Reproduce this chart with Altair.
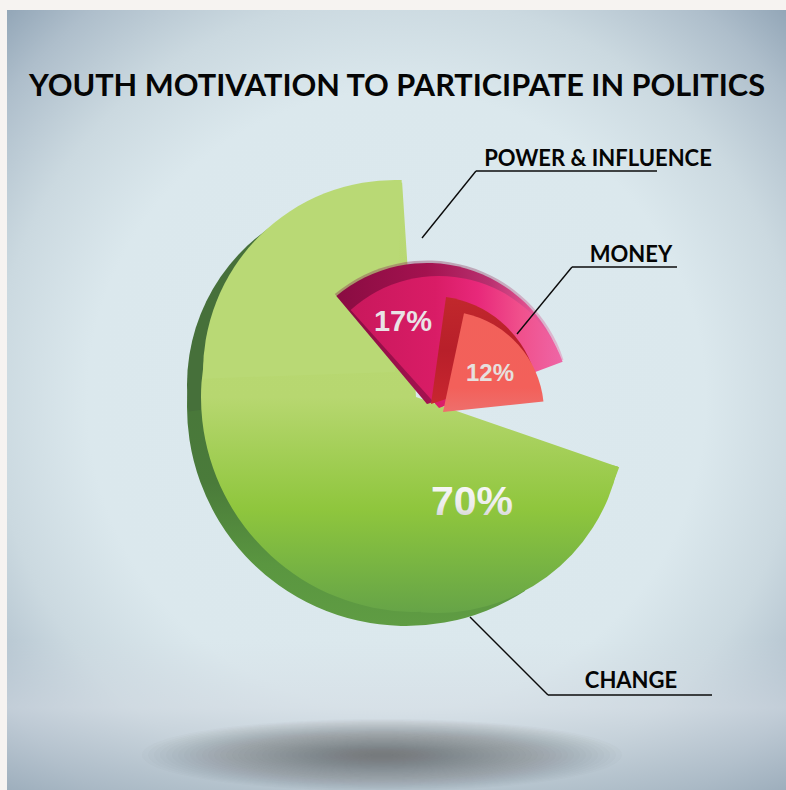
import altair as alt
import pandas as pd

# Survey shares with the sweep and reach of each wedge
reasons = ["CHANGE", "POWER & INFLUENCE", "MONEY"]
shares = [70, 17, 12]
sweep_start = [109.1, -42.0, 12.0]
sweep_end = [356.3, 69.5, 84.0]
pct_labels = ["70%", "17%", "12%"]

title_text = "YOUTH MOTIVATION TO PARTICIPATE IN POLITICS"

table = pd.DataFrame(
    {
        "reason": reasons,
        "share": shares,
        "start": sweep_start,
        "end": sweep_end,
        "pct": pct_labels,
    }
)
one_row = pd.DataFrame({"k": [0]})
W, H = 786, 790
HEAD_FONT = "Lato"
NUM_FONT = "Liberation Sans"
FLAT_ELLIPSE = "M-1,0 A1,0.15 0 1,0 1,0 A1,0.15 0 1,0 -1,0 Z"


def linear(stops, vertical=True):
    return alt.LinearGradient(
        gradient="linear",
        stops=[alt.GradientStop(offset=o, color=c) for o, c in stops],
        x1=0, y1=0,
        x2=0 if vertical else 1,
        y2=1 if vertical else 0,
    )


def radial(stops, r2=0.5):
    return alt.RadialGradient(
        gradient="radial",
        stops=[alt.GradientStop(offset=o, color=c) for o, c in stops],
        x1=0.5, y1=0.5, r1=0, x2=0.5, y2=0.5, r2=r2,
    )


def panel(x0, x1, y0, y1, fill):
    return alt.Chart(one_row).mark_rect(fill=fill).encode(
        x=alt.value(x0), x2=alt.value(x1), y=alt.value(y0), y2=alt.value(y1)
    )


def wedge(reason, cx, cy, reach, fill, opacity=1.0, sweep=None):
    """One pie sector: angle from the sweep columns, radius from the share."""
    rows = table[table.reason == reason].copy()
    if sweep:
        rows["start"], rows["end"] = sweep
    return alt.Chart(rows).mark_arc(fill=fill, opacity=opacity).encode(
        x=alt.value(cx),
        y=alt.value(cy),
        theta=alt.Theta(
            "start:Q",
            stack=False,
            scale=alt.Scale(domain=[0, 360], range=[0, 6.283185307]),
        ),
        theta2="end:Q",
        radius=alt.Radius(
            "share:Q",
            scale=alt.Scale(type="linear", domain=[12, 17, 70], range=reach),
        ),
        radius2=alt.value(0),
    )


def floor_shadow(cx, cy, half_widths, tint, alpha):
    """A soft ground shadow built from nested flat ellipses."""
    return [
        alt.Chart(one_row)
        .mark_point(
            shape=FLAT_ELLIPSE, filled=True, fill=tint, opacity=alpha,
            size=4 * hw * hw, strokeWidth=0,
        )
        .encode(x=alt.value(cx), y=alt.value(cy))
        for hw in half_widths
    ]


def leader(points):
    segs = []
    for (xa, ya), (xb, yb) in zip(points, points[1:]):
        segs.append(
            alt.Chart(one_row).mark_rule(color="#0b0b0b", strokeWidth=1.4).encode(
                x=alt.value(xa), x2=alt.value(xb), y=alt.value(ya), y2=alt.value(yb)
            )
        )
    return segs


def words(text, x, y, size, fill="#050505", font=HEAD_FONT, weight="bold", align="center"):
    data = pd.DataFrame({"t": [text]})
    return alt.Chart(data).mark_text(
        font=font, fontSize=size, fontWeight=weight, fill=fill,
        align=align, baseline="alphabetic",
    ).encode(x=alt.value(x), y=alt.value(y), text="t:N")


face_reach = [101, 132, 215]
back_reach = [108, 141, 219]
soft_reach = [108, 143.5, 219]
shoulder_reach = [101, 132, 192]
edge_shoulder_reach = [101, 132, 191]
belly_reach = [101, 132, 185]

silver = linear([(0, "#fbfbfb"), (0.6, "#ececec"), (1, "#c9c9c9")])
LIME = "#b9d975"
MOSS = "#46703a"

layers = [
    # Paper and vignette
    panel(0, W, 0, H, "#f6f3f1"),
    panel(
        7, W, 10, H,
        radial(
            [
                (0, "#dce9ee"),
                (0.55, "#dbe8ed"),
                (0.72, "#cbd9e0"),
                (0.88, "#aebecb"),
                (1, "#8ea2b4"),
            ],
            r2=0.72,
        ),
    ),
    panel(
        7, W, 640, H,
        linear(
            [
                (0, "rgba(212,220,228,0)"),
                (0.45, "rgba(212,219,227,0.55)"),
                (1, "rgba(165,180,192,0.6)"),
            ]
        ),
    ),
]
# Ground shadow beneath the pie
layers += floor_shadow(382, 755, list(range(240, 8, -6)), "#565c64", 0.024)
layers += [
    # Main wedge with its extruded edge
    wedge(
        "CHANGE", 406, 407, back_reach,
        linear(
            [(0, MOSS), (0.65, "#4a7b3a"), (0.85, "#5a9640"), (1, "#5f9c43")]
        ),
        sweep=(147, 330),
    ),
    wedge("CHANGE", 378, 385, edge_shoulder_reach, MOSS, sweep=(262, 330)),
    wedge(
        "CHANGE", 416, 397, face_reach,
        linear(
            [
                (0, LIME),
                (0.5, "#b7d770"),
                (0.76, "#8fc63d"),
                (0.88, "#7ab642"),
                (1, "#66a447"),
            ]
        ),
    ),
    # Fuller curve on the upper left and lower right of the main wedge
    wedge("CHANGE", 395, 372, shoulder_reach, LIME, sweep=(268, 362)),
    wedge(
        "CHANGE", 437, 428, belly_reach,
        linear(
            [
                (0, "#acd262"),
                (0.436, "#8fc63d"),
                (0.714, "#7ab642"),
                (1, "#66a447"),
            ]
        ),
        sweep=(102, 185),
    ),
    # Middle wedge: soft rim, raised back, front face
    wedge(
        "POWER & INFLUENCE", 427, 404, soft_reach,
        linear([(0, "#8a2c52"), (0.65, "#94476a"), (1, "#e76fa8")], vertical=False),
        opacity=0.4, sweep=(-40, 72),
    ),
    wedge(
        "POWER & INFLUENCE", 427, 404, back_reach,
        linear(
            [(0, "#8a0c42"), (0.4, "#a3124f"), (0.68, "#b8306f"), (0.85, "#e0508f"), (1, "#ec68a8")],
            vertical=False,
        ),
        sweep=(-40, 72),
    ),
    wedge(
        "POWER & INFLUENCE", 439, 408, face_reach,
        linear(
            [
                (0, "#c9185c"),
                (0.4, "#d91c66"),
                (0.6, "#e8287a"),
                (0.8, "#f0508c"),
                (1, "#ee66a6"),
            ],
            vertical=False,
        ),
    ),
    # Small wedge: raised back and front face
    wedge(
        "MONEY", 431, 404, back_reach,
        linear([(0, "#c1282c"), (0.5, "#b81f2a"), (1, "#c8262f")]),
        sweep=(8, 72),
    ),
    wedge(
        "MONEY", 443, 412, face_reach,
        linear([(0, "#f2615a"), (0.75, "#f3605a"), (1, "#ee6f6c")]),
    ),
    # Percentages
    words(pct_labels[0], 472, 515, 41, fill=silver, font=NUM_FONT),
    words(pct_labels[1], 403, 331, 29, fill="#e9e3e6", font=NUM_FONT),
    words(pct_labels[2], 490, 381, 24, fill="#e6e0df", font=NUM_FONT),
    # Title and callouts
    words(title_text, 397, 96, 30.7),
    words(reasons[1], 598, 166, 22),
    words(reasons[2], 631, 262, 22),
    words(reasons[0], 631, 688, 22),
]
layers += leader([(422, 238), (476, 171), (657, 171)])
layers += leader([(517, 334), (572, 267), (677, 267)])
layers += leader([(470, 617), (548, 695), (712, 695)])

chart = (
    alt.layer(*layers)
    .resolve_scale(radius="independent")
    .properties(
        width=W,
        height=H,
        padding=0,
        autosize=alt.AutoSizeParams(type="none"),
        background="#f6f3f1",
    )
    .configure_view(stroke=None)
)

chart.save("out.html", embed_options={"renderer": "svg", "actions": False})
